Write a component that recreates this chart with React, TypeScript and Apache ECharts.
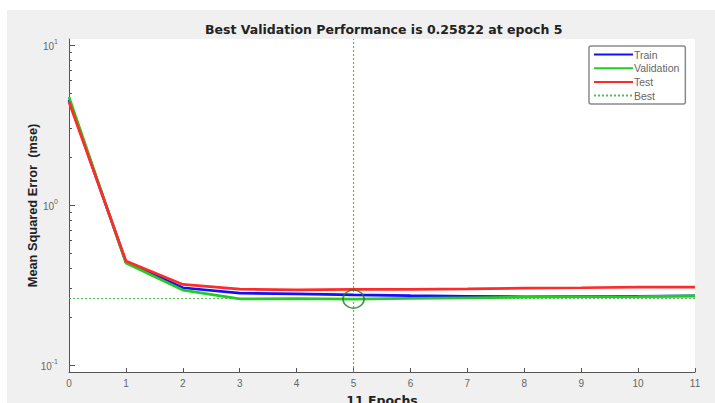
import React, { useEffect, useRef } from "react";
import * as echarts from "echarts";

const epochs = [0, 1, 2, 3, 4, 5, 6, 7, 8, 9, 10, 11];
const train = [4.55, 0.44, 0.304, 0.281, 0.278, 0.274, 0.271, 0.269, 0.267, 0.268, 0.269, 0.27];
const validation = [4.73, 0.434, 0.294, 0.259, 0.26, 0.25822, 0.261, 0.263, 0.265, 0.267, 0.268, 0.27];
const test = [4.4, 0.447, 0.319, 0.298, 0.295, 0.297, 0.297, 0.299, 0.302, 0.304, 0.307, 0.307];
const bestEpoch = 5;
const bestValue = 0.25822;
const majorTicks = [0.1, 1, 10];
const minorTicks = [0.2, 0.3, 0.4, 0.5, 0.6, 0.7, 0.8, 0.9, 2, 3, 4, 5, 6, 7, 8, 9];
const xTicks = [0, 1, 2, 3, 4, 5, 6, 7, 8, 9, 10, 11];
const yRange = [0.0904, 10.9];

const FONT = "Liberation Sans, Arial, sans-serif";
const BOLD_FONT = "DejaVu Sans, sans-serif";

export default function App() {
  const ref = useRef<HTMLDivElement>(null);
  useEffect(() => {
    document.body.style.margin = "0";
    const chart = echarts.init(ref.current!, null, { renderer: "svg" });
    const pairs = (arr: number[]) => epochs.map((e, i) => [e, arr[i]]);
    const yMin = yRange[0];
    const yMax = yRange[1];
    const bestLineStyle = { color: "#3fb83f", width: 1.2, type: [2, 2], opacity: 0.9 };
    chart.setOption({
      animation: false,
      backgroundColor: "#ffffff",
      textStyle: { fontFamily: FONT },
      graphic: [
        {
          type: "rect",
          z: -100,
          silent: true,
          shape: { x: 7, y: 10, width: 708, height: 393 },
          style: { fill: "#f0f0f0" },
        },
      ],
      title: {
        text: "Best Validation Performance is 0.25822 at epoch 5",
        left: 205,
        top: 23,
        padding: 0,
        textStyle: { fontFamily: BOLD_FONT, fontWeight: "bold", fontSize: 12.5, color: "#222" },
      },
      grid: {
        left: 69,
        top: 39,
        right: 20,
        bottom: 31,
        show: true,
        backgroundColor: "#ffffff",
        borderWidth: 0,
        containLabel: false,
        outerBoundsMode: "none",
      },
      legend: {
        orient: "vertical",
        left: 589,
        top: 46,
        width: 98,
        backgroundColor: "#ffffff",
        borderColor: "#8a8a8a",
        borderWidth: 1.5,
        borderRadius: 2,
        padding: [3, 6, 3, 4],
        itemGap: 2.7,
        itemWidth: 39,
        itemHeight: 10,
        itemStyle: { opacity: 0 },
        textStyle: { fontFamily: FONT, fontSize: 10.5, color: "#666", padding: [0, 0, 0, -4] },
        data: ["Train", "Validation", "Test", "Best"],
      },
      xAxis: {
        type: "value",
        min: 0,
        max: 11,
        interval: 1,
        name: "11 Epochs",
        nameLocation: "middle",
        nameGap: 22,
        nameMoveOverlap: false,
        nameTextStyle: { fontFamily: BOLD_FONT, fontWeight: "bold", fontSize: 12.5, color: "#222" },
        axisLine: { show: true, lineStyle: { color: "#555", width: 1 } },
        axisTick: { show: true, inside: true, length: 4, lineStyle: { color: "#555" }, customValues: xTicks },
        axisLabel: { color: "#666", fontSize: 10, margin: 6, customValues: xTicks },
        splitLine: { show: false },
      },
      yAxis: [
        {
          type: "log",
          min: yMin,
          max: yMax,
          name: "Mean Squared Error  (mse)",
          nameLocation: "middle",
          nameGap: 30,
          nameMoveOverlap: false,
          nameTextStyle: { fontFamily: FONT, fontWeight: "bold", fontSize: 12.8, color: "#222" },
          axisLine: { show: true, lineStyle: { color: "#555", width: 1 } },
          axisTick: { show: true, inside: true, length: 6, lineStyle: { color: "#555" }, customValues: majorTicks },
          axisLabel: {
            margin: 11,
            customValues: majorTicks,
            formatter: (v: number) => {
              const e = Math.round(Math.log10(v));
              return "{b|10}{s|" + (e < 0 ? "-" + Math.abs(e) : String(e)) + "}";
            },
            rich: {
              b: { fontSize: 10, color: "#666", fontFamily: FONT, lineHeight: 14, verticalAlign: "bottom" },
              s: { fontSize: 7, color: "#666", fontFamily: FONT, lineHeight: 14, verticalAlign: "top" },
            },
          },
          splitLine: { show: false },
        },
        {
          type: "log",
          min: yMin,
          max: yMax,
          position: "left",
          axisLine: { show: false },
          axisTick: { show: true, inside: true, length: 3, lineStyle: { color: "#555" }, customValues: minorTicks },
          axisLabel: { show: false },
          splitLine: { show: false },
        },
      ],
      series: [
        {
          name: "Best",
          type: "line",
          data: [
            [bestEpoch, yMin],
            [bestEpoch, yMax],
          ],
          symbol: "none",
          color: "#3fb83f",
          lineStyle: bestLineStyle,
          z: 1,
          markLine: {
            silent: true,
            symbol: "none",
            label: { show: false },
            lineStyle: bestLineStyle,
            data: [{ yAxis: bestValue, lineStyle: bestLineStyle }],
          },
        },
        {
          name: "Train",
          type: "line",
          data: pairs(train),
          symbol: "none",
          color: "#1010ff",
          lineStyle: { color: "#1010ff", width: 2.7 },
          z: 2,
        },
        {
          name: "Validation",
          type: "line",
          data: pairs(validation),
          symbol: "none",
          color: "#22cc22",
          lineStyle: { color: "#22cc22", width: 2.7 },
          z: 2,
        },
        {
          name: "Test",
          type: "line",
          data: pairs(test),
          symbol: "none",
          color: "#ff2a2a",
          lineStyle: { color: "#ff2a2a", width: 2.7 },
          z: 2,
        },
        {
          name: "BestPoint",
          type: "scatter",
          data: [[bestEpoch, bestValue]],
          symbol: "circle",
          symbolSize: [21, 18],
          z: 5,
          itemStyle: { color: "rgba(0,0,0,0)", borderColor: "#1e7a1e", borderWidth: 1.6 },
        },
      ],
    });
    return () => chart.dispose();
  }, []);
  return <div ref={ref} style={{ width: 715, height: 403 }} />;
}
